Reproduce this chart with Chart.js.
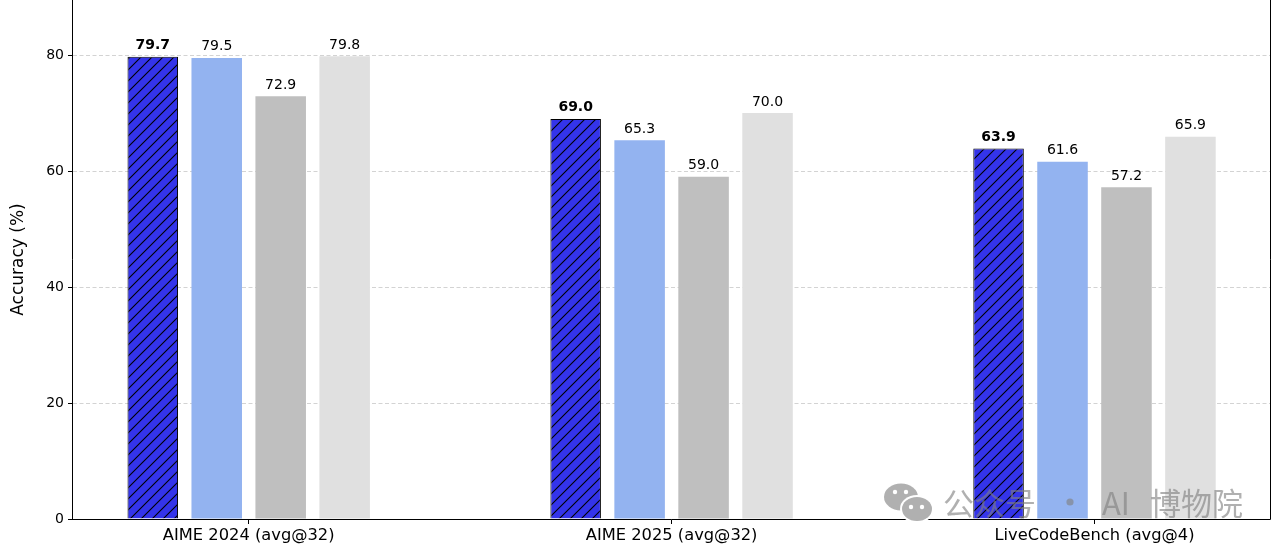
<!DOCTYPE html>
<html>
<head>
<meta charset="utf-8">
<script src="https://cdn.jsdelivr.net/npm/chart.js@4.4.0/dist/chart.umd.min.js"></script>
<style>
  html, body { margin: 0; padding: 0; background: #fff; }
  #wrap { width: 1280px; height: 545px; }
</style>
</head>
<body>
<div id="wrap"><canvas id="chart" width="1280" height="545"></canvas></div>
<script>
// values
const categories = ['AIME 2024 (avg@32)', 'AIME 2025 (avg@32)', 'LiveCodeBench (avg@4)'];
const seriesOurs = [79.7, 69.0, 63.9];
const seriesB = [79.5, 65.3, 61.6];
const seriesC = [72.9, 59.0, 57.2];
const seriesD = [79.8, 70.0, 65.9];
const yTicks = [0, 20, 40, 60, 80];

const FONT = "'DejaVu Sans', sans-serif";

// matplotlib-like '///' hatch over blue
function makeHatch() {
  const s = 11;
  const c = document.createElement('canvas');
  c.width = s; c.height = s;
  const g = c.getContext('2d');
  g.fillStyle = '#3434ea';
  g.fillRect(0, 0, s, s);
  g.strokeStyle = '#000';
  g.lineWidth = 1.1;
  g.beginPath();
  g.moveTo(-1, s + 1); g.lineTo(s + 1, -1);
  g.moveTo(-1, 1); g.lineTo(1, -1);
  g.moveTo(s - 1, s + 1); g.lineTo(s + 1, s - 1);
  g.stroke();
  return g.createPattern(c, 'repeat');
}

const toPoints = vals => vals.map((v, i) => ({ x: i, y: v }));

const decor = {
  id: 'decor',
  afterDraw(chart) {
    const ctx = chart.ctx;
    const a = chart.chartArea;
    ctx.save();
    // spines (top one is outside the picture)
    ctx.setLineDash([]);
    ctx.strokeStyle = '#000';
    ctx.lineWidth = 1;
    ctx.beginPath();
    ctx.moveTo(Math.round(a.left) - 0.5, a.top);
    ctx.lineTo(Math.round(a.left) - 0.5, Math.round(a.bottom) + 0.5);
    ctx.lineTo(Math.round(a.right) + 0.5, Math.round(a.bottom) + 0.5);
    ctx.lineTo(Math.round(a.right) + 0.5, a.top);
    ctx.stroke();

    // value labels
    ctx.fillStyle = '#000';
    ctx.textAlign = 'center';
    ctx.textBaseline = 'alphabetic';
    chart.data.datasets.forEach((ds, i) => {
      ctx.font = (ds.boldLabel ? 'bold ' : '') + '14px ' + FONT;
      chart.getDatasetMeta(i).data.forEach((bar, j) => {
        ctx.fillText(ds.data[j].y.toFixed(1), bar.x, bar.y - 7.5);
      });
    });

    // watermark
    const wm = 'rgba(128,128,128,0.62)';
    ctx.fillStyle = wm;
    ctx.beginPath();
    ctx.ellipse(901, 497, 17, 13.5, 0, 0, Math.PI * 2);
    ctx.fill();
    ctx.fillStyle = '#fff';
    ctx.beginPath();
    ctx.ellipse(917, 509, 17, 14, 0, 0, Math.PI * 2);
    ctx.fill();
    ctx.fillStyle = wm;
    ctx.beginPath();
    ctx.ellipse(917, 509, 15, 12, 0, 0, Math.PI * 2);
    ctx.fill();
    ctx.fillStyle = '#fff';
    [[895, 492], [906, 492], [911, 507], [922, 507]].forEach(p => {
      ctx.beginPath(); ctx.arc(p[0], p[1], 2.2, 0, Math.PI * 2); ctx.fill();
    });
    ctx.fillStyle = wm;
    ctx.font = "31px 'Noto Sans CJK SC', sans-serif";
    ctx.textBaseline = 'middle';
    ctx.textAlign = 'left';
    ctx.fillText('公众号', 943, 503);
    ctx.fillText('AI', 1102, 503);
    ctx.fillText('博物院', 1150, 503);
    ctx.beginPath();
    ctx.arc(1070, 502, 3.6, 0, Math.PI * 2);
    ctx.fill();
    ctx.restore();
  }
};

// drop the label-overhang padding so the plot fills the canvas height
const noPad = s => { s.paddingTop = 0; s.paddingBottom = 0; };

const ctx = document.getElementById('chart').getContext('2d');
new Chart(ctx, {
  type: 'bar',
  data: {
    datasets: [
      { data: toPoints(seriesOurs), backgroundColor: makeHatch(), borderColor: '#000', borderWidth: 1, boldLabel: true },
      { data: toPoints(seriesB), backgroundColor: '#93b3f0', borderWidth: 0 },
      { data: toPoints(seriesC), backgroundColor: '#bfbfbf', borderWidth: 0 },
      { data: toPoints(seriesD), backgroundColor: '#e0e0e0', borderWidth: 0 }
    ]
  },
  options: {
    responsive: false,
    animation: false,
    categoryPercentage: 0.605,
    barPercentage: 0.79,
    layout: { padding: { top: 0, right: 10, left: 0, bottom: 0 } },
    plugins: { legend: { display: false }, tooltip: { enabled: false } },
    scales: {
      x: {
        type: 'linear',
        min: -0.4155,
        max: 2.415,
        offset: false,
        afterBuildTicks: s => { s.ticks = categories.map((c, i) => ({ value: i })); },
        afterFit: s => { s.height = 26; },
        ticks: {
          callback: v => categories[v],
          color: '#000',
          font: { family: FONT, size: 16.3 },
          padding: 2,
          maxRotation: 0,
          autoSkip: false
        },
        grid: { offset: false, drawOnChartArea: false, drawTicks: true, tickLength: 5, tickColor: '#000', tickWidth: 1 },
        border: { display: false }
      },
      y: {
        min: 0,
        max: 89.5,
        afterBuildTicks: s => { s.ticks = yTicks.map(v => ({ value: v })); },
        afterFit: s => { s.width = 73; noPad(s); },
        ticks: { color: '#000', font: { family: FONT, size: 14 }, padding: 4 },
        grid: { color: '#c8c8c8', lineWidth: 0.8, tickColor: '#000', tickLength: 5, tickWidth: 1, tickBorderDash: [] },
        border: { display: false, dash: [4, 2.5] },
        title: {
          display: true,
          text: 'Accuracy (%)',
          color: '#000',
          font: { family: FONT, size: 17 },
          padding: { top: 8, bottom: 0 }
        }
      }
    }
  },
  plugins: [decor]
});
</script>
</body>
</html>
